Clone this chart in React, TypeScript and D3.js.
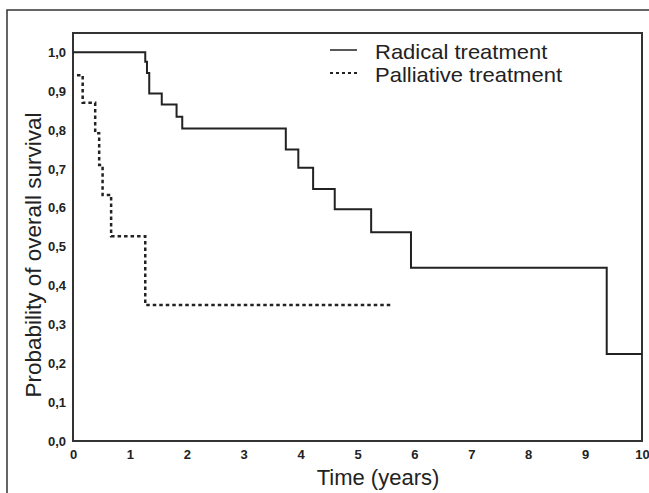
import * as d3 from "d3";
import { useEffect, useRef } from "react";

// Kaplan-Meier steps
const radicalTimes = [0, 1.27, 1.3, 1.34, 1.56, 1.82, 1.92, 3.74, 3.96, 4.22, 4.6, 5.24, 5.94, 9.38, 10];
const radicalSurv = [1.0, 0.976, 0.947, 0.894, 0.866, 0.834, 0.804, 0.75, 0.703, 0.648, 0.596, 0.537, 0.446, 0.224, 0.224];

const palliativeTimes = [0.07, 0.17, 0.39, 0.46, 0.52, 0.67, 1.27, 5.62];
const palliativeSurv = [0.941, 0.87, 0.792, 0.71, 0.633, 0.527, 0.35, 0.35];

const xTicks = [0, 1, 2, 3, 4, 5, 6, 7, 8, 9, 10];
const yTicks = [0, 0.1, 0.2, 0.3, 0.4, 0.5, 0.6, 0.7, 0.8, 0.9, 1.0];

const legendLabels = ["Radical treatment", "Palliative treatment"];

const FONT = "'Liberation Sans', Arial, sans-serif";

export default function App() {
    const axisBottomRef = useRef<SVGGElement>(null);
    const axisLeftRef = useRef<SVGGElement>(null);

    const width = 649;
    const height = 493;
    const plot = { left: 73, right: 642, top: 33, bottom: 441 };

    const x = d3.scaleLinear().domain([0, 10]).range([plot.left, plot.right]);
    const y = d3.scaleLinear().domain([0, 1]).range([plot.bottom, plot.bottom - 388.7]);

    const line = d3
        .line<[number, number]>()
        .x(d => x(d[0]))
        .y(d => y(d[1]))
        .curve(d3.curveStepAfter);

    const radical = radicalTimes.map((t, i) => [t, radicalSurv[i]] as [number, number]);
    const palliative = palliativeTimes.map((t, i) => [t, palliativeSurv[i]] as [number, number]);

    useEffect(() => {
        const fmt = d3.format(".1f");
        if (axisBottomRef.current) {
            const g = d3.select(axisBottomRef.current);
            g.call(d3.axisBottom(x).tickValues(xTicks).tickSize(0).tickPadding(9).tickFormat(d3.format("d")));
            g.select(".domain").remove();
            g.selectAll("text")
                .attr("font-family", FONT)
                .attr("font-size", 13)
                .attr("font-weight", "bold")
                .attr("fill", "#222");
        }
        if (axisLeftRef.current) {
            const g = d3.select(axisLeftRef.current);
            g.call(
                d3.axisLeft(y)
                    .tickValues(yTicks)
                    .tickSize(0)
                    .tickPadding(7)
                    .tickFormat(d => fmt(d as number).replace(".", ","))
            );
            g.select(".domain").remove();
            g.selectAll("text")
                .attr("font-family", FONT)
                .attr("font-size", 13)
                .attr("font-weight", "bold")
                .attr("fill", "#222");
        }
    }, []);

    return (
        <svg
            width={width}
            height={height}
            style={{ position: "absolute", left: 0, top: 0, background: "#fff" }}
        >
            <rect x={7} y={10} width={700} height={600} fill="none" stroke="#333" strokeWidth={1.5} />
            <rect
                x={plot.left}
                y={plot.top}
                width={plot.right - plot.left}
                height={plot.bottom - plot.top}
                fill="none"
                stroke="#333"
                strokeWidth={2}
            />
            <g ref={axisBottomRef} transform={`translate(0, ${plot.bottom})`} />
            <g ref={axisLeftRef} transform={`translate(${plot.left}, 0)`} />

            <path d={line(radical) || ""} fill="none" stroke="#222" strokeWidth={2} />
            <path
                d={line(palliative) || ""}
                fill="none"
                stroke="#222"
                strokeWidth={2.5}
                strokeDasharray="3.5 3"
            />

            {legendLabels.map((label, i) => (
                <g key={label} transform={`translate(330, ${50 + i * 23})`}>
                    <line
                        x1={0}
                        x2={27}
                        y1={0}
                        y2={0}
                        stroke="#222"
                        strokeWidth={i === 0 ? 1.5 : 2}
                        strokeDasharray={i === 0 ? undefined : "3 3"}
                    />
                    <text
                        transform="translate(45, 9) scale(1.1, 1)"
                        fontFamily={FONT}
                        fontSize={20}
                        fill="#222"
                    >
                        {label}
                    </text>
                </g>
            ))}

            <text
                x={378}
                y={485}
                textAnchor="middle"
                fontFamily={FONT}
                fontSize={22}
                fill="#222"
            >
                Time (years)
            </text>
            <text
                transform="translate(41, 255) rotate(-90)"
                textAnchor="middle"
                fontFamily={FONT}
                fontSize={22.5}
                fill="#222"
            >
                Probability of overall survival
            </text>
        </svg>
    );
}
